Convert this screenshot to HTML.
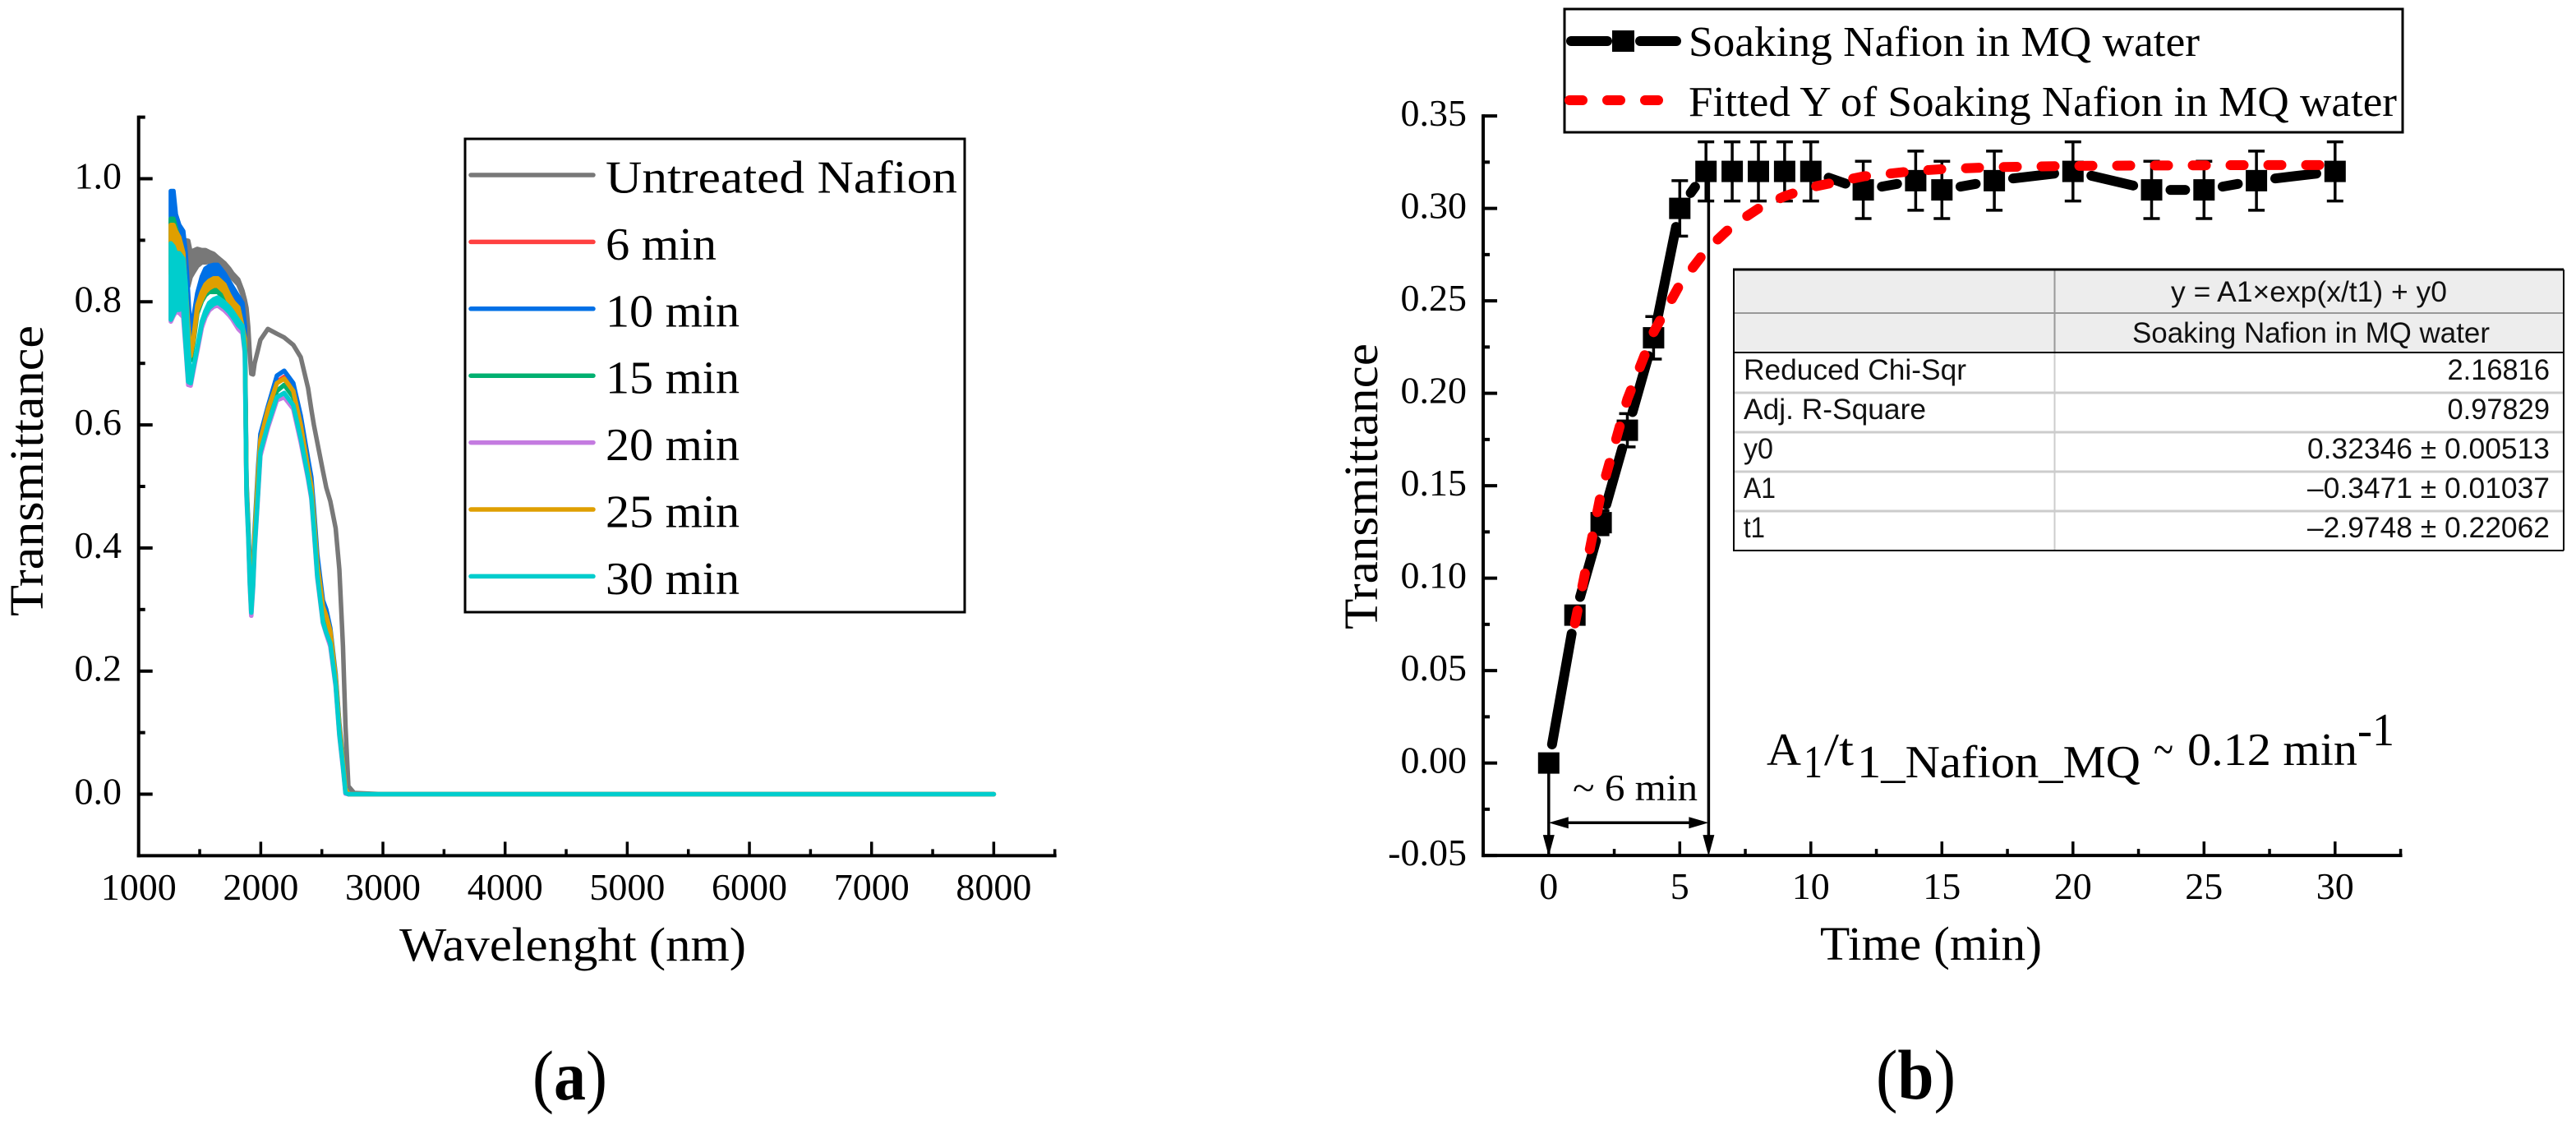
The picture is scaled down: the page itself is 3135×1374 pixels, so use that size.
<!DOCTYPE html>
<html lang="en">
<head>
<meta charset="utf-8">
<title>Transmittance of Nafion soaked in MQ water</title>
<style>
html,body{margin:0;padding:0;background:#fff;width:3135px;height:1374px;overflow:hidden}
svg{display:block}
text{font-family:"Liberation Serif",serif;fill:#000}
.ax{font-size:46px}
.ttl{font-size:58px}
.leg{font-size:56px}
.legb{font-size:52px}
.tb{font-family:"Liberation Sans",sans-serif;font-size:35px;fill:#111}
</style>
</head>
<body>
<svg id="fig" xmlns="http://www.w3.org/2000/svg" width="3135" height="1374" viewBox="0 0 3135 1374">
  <rect x="0" y="0" width="3135" height="1374" fill="#fff"/>

  <g id="panelA">
    <g id="axesA"></g>
    <g id="seriesA"></g>
    <text class="ttl" transform="translate(52,750) rotate(-90)" textLength="354" lengthAdjust="spacingAndGlyphs">Transmittance</text>
    <text class="ttl" x="486" y="1169" textLength="422" lengthAdjust="spacingAndGlyphs">Wavelenght (nm)</text>
    <rect x="566" y="169" width="608" height="576" fill="#fff" stroke="#000" stroke-width="3"/>
    <g id="legendA"></g>
    <text x="648" y="1338" font-size="86" textLength="91" lengthAdjust="spacingAndGlyphs">(<tspan font-weight="bold">a</tspan>)</text>
  </g>

  <g id="panelB">
    <g id="axesB"></g>
    <g id="seriesB"></g>
    <text class="ttl" transform="translate(1676,766) rotate(-90)" textLength="348" lengthAdjust="spacingAndGlyphs">Transmittance</text>
    <text class="ttl" x="2215" y="1168" textLength="270" lengthAdjust="spacingAndGlyphs">Time (min)</text>

    <g>
      <rect x="1904" y="11" width="1020" height="150" fill="#fff" stroke="#000" stroke-width="3"/>
      <line x1="1912" y1="50" x2="1956" y2="50" stroke="#000" stroke-width="12" stroke-linecap="round"/>
      <line x1="1996" y1="50" x2="2040" y2="50" stroke="#000" stroke-width="12" stroke-linecap="round"/>
      <rect x="1962" y="37" width="27" height="26" fill="#000"/>
      <line x1="1910" y1="122" x2="2030" y2="122" stroke="#f00" stroke-width="12" stroke-linecap="round" stroke-dasharray="16 30"/>
      <text class="legb" x="2055" y="68" textLength="622" lengthAdjust="spacingAndGlyphs">Soaking Nafion in MQ water</text>
      <text class="legb" x="2055" y="141" textLength="862" lengthAdjust="spacingAndGlyphs">Fitted Y of Soaking Nafion in MQ water</text>
    </g>

    <g>
      <rect x="2110" y="328" width="1010" height="342" fill="#fff"/>
      <rect x="2110" y="328" width="1010" height="101" fill="#ededed"/>
      <line x1="2110" y1="478" x2="3120" y2="478" stroke="#ccc" stroke-width="3"/>
      <line x1="2110" y1="526" x2="3120" y2="526" stroke="#ccc" stroke-width="3"/>
      <line x1="2110" y1="574" x2="3120" y2="574" stroke="#ccc" stroke-width="3"/>
      <line x1="2110" y1="622" x2="3120" y2="622" stroke="#ccc" stroke-width="3"/>
      <line x1="2500.5" y1="429" x2="2500.5" y2="670" stroke="#ccc" stroke-width="2"/>
      <line x1="2500.5" y1="328" x2="2500.5" y2="429" stroke="#999" stroke-width="2"/>
      <line x1="2110" y1="381" x2="3120" y2="381" stroke="#999" stroke-width="2"/>
      <line x1="2110" y1="429" x2="3120" y2="429" stroke="#000" stroke-width="2"/>
      <line x1="2109" y1="328" x2="3120" y2="328" stroke="#000" stroke-width="3"/>
      <line x1="2109" y1="670" x2="3120" y2="670" stroke="#000" stroke-width="2"/>
      <line x1="2110" y1="328" x2="2110" y2="670" stroke="#000" stroke-width="2"/>
      <line x1="3120" y1="328" x2="3120" y2="670" stroke="#000" stroke-width="2"/>
      <text class="tb" x="2642" y="367" textLength="336" lengthAdjust="spacingAndGlyphs">y = A1×exp(x/t1) + y0</text>
      <text class="tb" x="2595" y="417" textLength="435" lengthAdjust="spacingAndGlyphs">Soaking Nafion in MQ water</text>
      <text class="tb" x="2122" y="462" textLength="271" lengthAdjust="spacingAndGlyphs">Reduced Chi-Sqr</text>
      <text class="tb" x="2978.5" y="462" textLength="124.5" lengthAdjust="spacingAndGlyphs">2.16816</text>
      <text class="tb" x="2122" y="510" textLength="222" lengthAdjust="spacingAndGlyphs">Adj. R-Square</text>
      <text class="tb" x="2978.5" y="510" textLength="124.5" lengthAdjust="spacingAndGlyphs">0.97829</text>
      <text class="tb" x="2122" y="558" textLength="36" lengthAdjust="spacingAndGlyphs">y0</text>
      <text class="tb" x="2808" y="558" textLength="295" lengthAdjust="spacingAndGlyphs">0.32346 ± 0.00513</text>
      <text class="tb" x="2122" y="606" textLength="39" lengthAdjust="spacingAndGlyphs">A1</text>
      <text class="tb" x="2808" y="606" textLength="295" lengthAdjust="spacingAndGlyphs">–0.3471 ± 0.01037</text>
      <text class="tb" x="2122" y="654" textLength="26" lengthAdjust="spacingAndGlyphs">t1</text>
      <text class="tb" x="2808" y="654" textLength="295" lengthAdjust="spacingAndGlyphs">–2.9748 ± 0.22062</text>
    </g>

    <g font-size="56">
      <text x="2150" y="931" textLength="42" lengthAdjust="spacingAndGlyphs">A</text>
      <text x="2195" y="946" textLength="23" lengthAdjust="spacingAndGlyphs">1</text>
      <text x="2220" y="931" textLength="36" lengthAdjust="spacingAndGlyphs">/t</text>
      <text x="2260" y="946" textLength="345" lengthAdjust="spacingAndGlyphs">1_Nafion_MQ</text>
      <text x="2621" y="931" textLength="24" lengthAdjust="spacingAndGlyphs">~</text>
      <text x="2662" y="931" textLength="207" lengthAdjust="spacingAndGlyphs">0.12 min</text>
      <text x="2869" y="907" textLength="45" lengthAdjust="spacingAndGlyphs">-1</text>
    </g>
    <text x="1914" y="974" font-size="46" textLength="152" lengthAdjust="spacingAndGlyphs">~ 6 min</text>
    <text x="2283" y="1337" font-size="86" textLength="97" lengthAdjust="spacingAndGlyphs">(<tspan font-weight="bold">b</tspan>)</text>
  </g>
</svg>

<script>
// ---- Panel (a) data ----
const wavelengths = [1264,1285,1305,1332,1365,1385,1406,1426,1446,1480,1517,1547,1577,1614,1648,1702,1742,1769,1816,1850,1870,1883,1897,1910,1922,1937,1950,1977,1997,2058,2132,2192,2266,2327,2387,2414,2435,2462,2509,2536,2569,2613,2643,2673,2694,2717,2764,3000,8000];
const untreated = [.88,.885,.885,.885,.885,.885,.862,.86,.865,.872,.874,.874,.873,.872,.867,.859,.85,.842,.832,.815,.80,.79,.76,.715,.683,.682,.70,.722,.738,.756,.748,.742,.73,.71,.66,.625,.60,.572,.525,.498,.476,.432,.365,.24,.11,.013,.002,0,0];
const min6 = [.89,.89,.88,.875,.85,.80,.75,.715,.74,.795,.815,.826,.832,.836,.836,.825,.81,.80,.79,.765,.74,.50,.43,.36,.31,.36,.42,.52,.575,.625,.67,.678,.658,.60,.53,.50,.45,.375,.305,.29,.265,.19,.11,.055,.01,0,0,0,0];
const min10 = [.93,.93,.90,.89,.875,.85,.79,.745,.772,.81,.835,.846,.85,.852,.852,.84,.828,.82,.805,.795,.76,.51,.44,.37,.315,.37,.43,.53,.585,.63,.68,.688,.668,.615,.545,.515,.465,.39,.315,.30,.27,.195,.115,.06,.012,0,0,0,0];
const min15 = [.895,.895,.885,.87,.84,.79,.74,.705,.73,.785,.805,.815,.82,.82,.82,.81,.795,.785,.775,.755,.735,.50,.43,.36,.305,.36,.42,.515,.57,.615,.655,.665,.645,.59,.525,.495,.445,.37,.30,.285,.26,.185,.105,.05,.008,0,0,0,0];
const min20 = [.83,.832,.83,.828,.815,.775,.695,.664,.685,.72,.76,.778,.79,.796,.798,.79,.782,.775,.76,.752,.716,.485,.42,.34,.29,.335,.395,.485,.55,.595,.64,.645,.626,.572,.512,.48,.428,.352,.278,.26,.24,.175,.095,.042,.001,0,0,0,0];
const min25 = [.885,.885,.88,.875,.85,.80,.745,.712,.735,.79,.81,.822,.828,.832,.832,.822,.805,.795,.785,.76,.74,.50,.43,.36,.31,.36,.42,.52,.575,.625,.668,.675,.655,.60,.53,.50,.45,.375,.305,.29,.265,.19,.11,.055,.01,0,0,0,0];
const min30 = [.833,.835,.833,.833,.83,.78,.70,.668,.69,.725,.766,.782,.794,.80,.803,.795,.787,.78,.766,.758,.72,.489,.423,.345,.295,.34,.40,.489,.556,.60,.645,.652,.632,.578,.516,.484,.432,.356,.28,.262,.245,.178,.098,.045,.002,0,0,0,0];
// half-width of the measurement noise band around each series (missing entries are zero)
const noiseUntreated = [.03,.03,.02,.015,.015,.015,.037,.02,.018,.014,.01,.01,.008,.006,.005,.004,.004,.004,.004,.003,.003];
const noiseMin6 = [.04,.04,.035,.03,.03,.025,.015,0,0,.004,.005,.005,.005,.005,.005,.005,.005,.005,.005];
const noiseMin10 = [.05,.05,.042,.035,.04,.03,.02,0,0,.004,.006,.008,.008,.008,.008,.006,.005,.004,.004,.003];
const noiseMin15 = [.04,.04,.035,.03,.03,.025,.015,0,0,.004,.004,.004,.004,.004,.004,.004,.004,.004,.004];
const noiseMin25 = [.04,.04,.035,.03,.03,.025,.015,0,0,.004,.006,.006,.006,.006,.006,.006,.006,.006,.006];
const noiseMin30 = [.062,.055,.046,.046,.04,.05,.03,0,0,0,.002,.003,.004,.004,.004,.004,.004,.004,.004,.003];
const legendLabelsA = ['Untreated Nafion','6 min','10 min','15 min','20 min','25 min','30 min'];
const legendWidthsA = [428,135,163,163,163,163,163];
const xTicksA = [1000,2000,3000,4000,5000,6000,7000,8000];
const xMinorA = [1500,2500,3500,4500,5500,6500,7500,8500];
const yTicksA = [0,0.2,0.4,0.6,0.8,1.0];
const yTickLabelsA = ['0.0','0.2','0.4','0.6','0.8','1.0'];
const yMinorA = [0.1,0.3,0.5,0.7,0.9,1.1];

// ---- Panel (b) data ----
const soakTimes = [0,1,2,3,4,5,6,7,8,9,10,12,14,15,17,20,23,25,27,30];
const soakValues = [0,.08,.13,.18,.23,.30,.32,.32,.32,.32,.32,.31,.315,.31,.315,.32,.31,.31,.315,.32];
const soakErrors = [0,.004,.0065,.009,.0115,.015,.016,.016,.016,.016,.016,.0155,.016,.0155,.016,.016,.0155,.0155,.016,.016];
const fitTimes = [1,2,3,4,5,6,7,8,9,10,12,14,15,17,20,23,25,27,30];
const fitValues = [.0755,.1463,.1968,.2330,.2588,.2773,.2905,.2999,.3066,.3114,.3173,.3203,.3212,.3223,.3230,.3232,.3233,.3234,.3234];
const xTicksB = [0,5,10,15,20,25,30];
const xMinorB = [2.5,7.5,12.5,17.5,22.5,27.5,32.5];
const yTicksB = [-0.05,0,0.05,0.10,0.15,0.20,0.25,0.30,0.35];
const yTickLabelsB = ['-0.05','0.00','0.05','0.10','0.15','0.20','0.25','0.30','0.35'];
const yMinorB = [-0.025,0.025,0.075,0.125,0.175,0.225,0.275,0.325];
const plateauTime = [6.1];

// ---- Scales ----
function xA(w){return 168.7+(w-1000)*0.14867;}
function yA(v){return 966.5-v*749;}
function xB(t){return 1884.8+t*31.9;}
function yB(v){return 928.6-v*2250;}

const NS='http://www.w3.org/2000/svg';
function make(parent,tag,attrs){
  const el=document.createElementNS(NS,tag);
  for(const k in attrs){el.setAttribute(k,attrs[k]);}
  parent.appendChild(el);
  return el;
}
function vTick(g,x,y0,len,name){
  const el=make(g,'line',{x1:x,x2:x,y1:y0,y2:y0-len,stroke:'#000','stroke-width':3.5});
  
  
}
function hTick(g,x0,y,len,name){
  const el=make(g,'line',{x1:x0,x2:x0+len,y1:y,y2:y,stroke:'#000','stroke-width':4});
  
  
}
function axisLine(g,x1,y1,x2,y2,name){
  const el=make(g,'line',{x1:x1,y1:y1,x2:x2,y2:y2,stroke:'#000','stroke-width':4,'stroke-linecap':'square'});
  
  
}
function tickText(g,x,y,anchor,str,name){
  const el=make(g,'text',{x:x,y:y,'text-anchor':anchor,class:'ax'});
  el.textContent=str;
  
  
}

// ---- Panel (a) axes ----
const axesA=document.getElementById('axesA');
axisLine(axesA,xA(1000),yA(1.1),xA(1000),yA(-0.1),'panel-a-y-axis');
axisLine(axesA,xA(1000),yA(-0.1),xA(8500),yA(-0.1),'panel-a-x-axis');
xTicksA.forEach(function(w){
  vTick(axesA,xA(w),yA(-0.1),17,'panel-a-x-tick');
  tickText(axesA,xA(w),1095,'middle',String(w),'panel-a-x-tick-label');
});
xMinorA.forEach(function(w){vTick(axesA,xA(w),yA(-0.1),8,'panel-a-x-minor-tick');});
yTicksA.forEach(function(v,i){
  hTick(axesA,xA(1000),yA(v),17,'panel-a-y-tick');
  tickText(axesA,148,yA(v)+12,'end',yTickLabelsA[i],'panel-a-y-tick-label');
});
yMinorA.forEach(function(v){hTick(axesA,xA(1000),yA(v),8,'panel-a-y-minor-tick');});

// ---- Panel (a) series ----
const seriesListA=[
  {name:'untreated-nafion',color:'#787878',values:untreated,noise:noiseUntreated},
  {name:'6-min',color:'#ff4040',values:min6,noise:noiseMin6},
  {name:'10-min',color:'#0070e6',values:min10,noise:noiseMin10},
  {name:'15-min',color:'#00b070',values:min15,noise:noiseMin15},
  {name:'20-min',color:'#c47be0',values:min20,noise:noiseMin30},
  {name:'25-min',color:'#df9f00',values:min25,noise:noiseMin25},
  {name:'30-min',color:'#00cdcd',values:min30,noise:noiseMin30}
];
const seriesA=document.getElementById('seriesA');
const legendA=document.getElementById('legendA');
seriesListA.forEach(function(s,idx){
  const upper=[],lower=[];
  wavelengths.forEach(function(w,i){
    const n=s.noise[i]||0;
    upper.push(xA(w).toFixed(1)+','+yA(s.values[i]+n).toFixed(1));
    lower.unshift(xA(w).toFixed(1)+','+yA(s.values[i]-n).toFixed(1));
  });
  const path=make(seriesA,'polygon',{points:upper.concat(lower).join(' '),fill:s.color,stroke:s.color,'stroke-width':5.5,'stroke-linejoin':'round'});
  
  

  const ly=213+idx*81.4;
  const sw=make(legendA,'line',{x1:573,x2:722,y1:ly,y2:ly,stroke:s.color,'stroke-width':5.5,'stroke-linecap':'round'});
  
  
  const lt=make(legendA,'text',{x:737,y:ly+21.5,class:'leg',textLength:legendWidthsA[idx],lengthAdjust:'spacingAndGlyphs'});
  lt.textContent=legendLabelsA[idx];
  
  
});

// ---- Panel (b) axes ----
const axesB=document.getElementById('axesB');
axisLine(axesB,xB(-2.5),yB(0.35),xB(-2.5),yB(-0.05),'panel-b-y-axis');
axisLine(axesB,xB(-2.5),yB(-0.05),xB(32.5),yB(-0.05),'panel-b-x-axis');
xTicksB.forEach(function(t){
  vTick(axesB,xB(t),yB(-0.05),17,'panel-b-x-tick');
  tickText(axesB,xB(t),1094,'middle',String(t),'panel-b-x-tick-label');
});
xMinorB.forEach(function(t){vTick(axesB,xB(t),yB(-0.05),8,'panel-b-x-minor-tick');});
yTicksB.forEach(function(v,i){
  hTick(axesB,xB(-2.5),yB(v),17,'panel-b-y-tick');
  tickText(axesB,1785,yB(v)+12,'end',yTickLabelsB[i],'panel-b-y-tick-label');
});
yMinorB.forEach(function(v){hTick(axesB,xB(-2.5),yB(v),8,'panel-b-y-minor-tick');});

// ---- Panel (b) series ----
const seriesB=document.getElementById('seriesB');
const GAP=23;
soakTimes.forEach(function(t,i){
  if(soakErrors[i]<=0){return;}
  const x=xB(t),top=yB(soakValues[i]+soakErrors[i]),bot=yB(soakValues[i]-soakErrors[i]);
  const stem=make(seriesB,'line',{x1:x,x2:x,y1:top,y2:bot,stroke:'#000','stroke-width':3.5});
  
  
  const capTop=make(seriesB,'line',{x1:x-10,x2:x+10,y1:top,y2:top,stroke:'#000','stroke-width':3.5});
  
  
  const capBot=make(seriesB,'line',{x1:x-10,x2:x+10,y1:bot,y2:bot,stroke:'#000','stroke-width':3.5});
  
  
});
for(let i=0;i<soakTimes.length-1;i++){
  const x1=xB(soakTimes[i]),y1=yB(soakValues[i]),x2=xB(soakTimes[i+1]),y2=yB(soakValues[i+1]);
  const d=Math.hypot(x2-x1,y2-y1);
  if(d<=2*GAP){continue;}
  const ux=(x2-x1)/d,uy=(y2-y1)/d;
  const seg=make(seriesB,'line',{x1:x1+ux*GAP,y1:y1+uy*GAP,x2:x2-ux*GAP,y2:y2-uy*GAP,stroke:'#000','stroke-width':12,'stroke-linecap':'round'});
  
  
}
soakTimes.forEach(function(t,i){
  const m=make(seriesB,'rect',{x:xB(t)-13,y:yB(soakValues[i])-13,width:26,height:26,fill:'#000'});
  
  
});

// Fit curve
const fitPts=fitTimes.map(function(t,i){return xB(t).toFixed(1)+','+yB(fitValues[i]).toFixed(1);}).join(' ');
const fit=make(seriesB,'polyline',{points:fitPts,fill:'none',stroke:'#f00','stroke-width':12,'stroke-linecap':'round','stroke-linejoin':'round','stroke-dasharray':'16 30'});



// Annotation arrows at t=0 and the plateau time
function arrowV(x,yTop,name){
  const l=make(seriesB,'line',{x1:x,x2:x,y1:yTop,y2:yB(-0.05)-20,stroke:'#000','stroke-width':3.5});
  
  
  const b=yB(-0.05);
  const h=make(seriesB,'polygon',{points:(x-7)+','+(b-25)+' '+(x+7)+','+(b-25)+' '+x+','+(b+1),fill:'#000'});
  
  
}
arrowV(xB(0),yB(0),'arrow-time-zero');
arrowV(xB(plateauTime[0]),yB(soakValues[6]),'arrow-plateau-time');
const hy=yB(-0.0323),hx1=xB(0),hx2=xB(plateauTime[0]);
const hl=make(seriesB,'line',{x1:hx1+10,x2:hx2-10,y1:hy,y2:hy,stroke:'#000','stroke-width':3.5});


const hLeft=make(seriesB,'polygon',{points:hx1+','+hy+' '+(hx1+24)+','+(hy-7)+' '+(hx1+24)+','+(hy+7),fill:'#000'});


const hRight=make(seriesB,'polygon',{points:hx2+','+hy+' '+(hx2-24)+','+(hy-7)+' '+(hx2-24)+','+(hy+7),fill:'#000'});


</script>
</body>
</html>
